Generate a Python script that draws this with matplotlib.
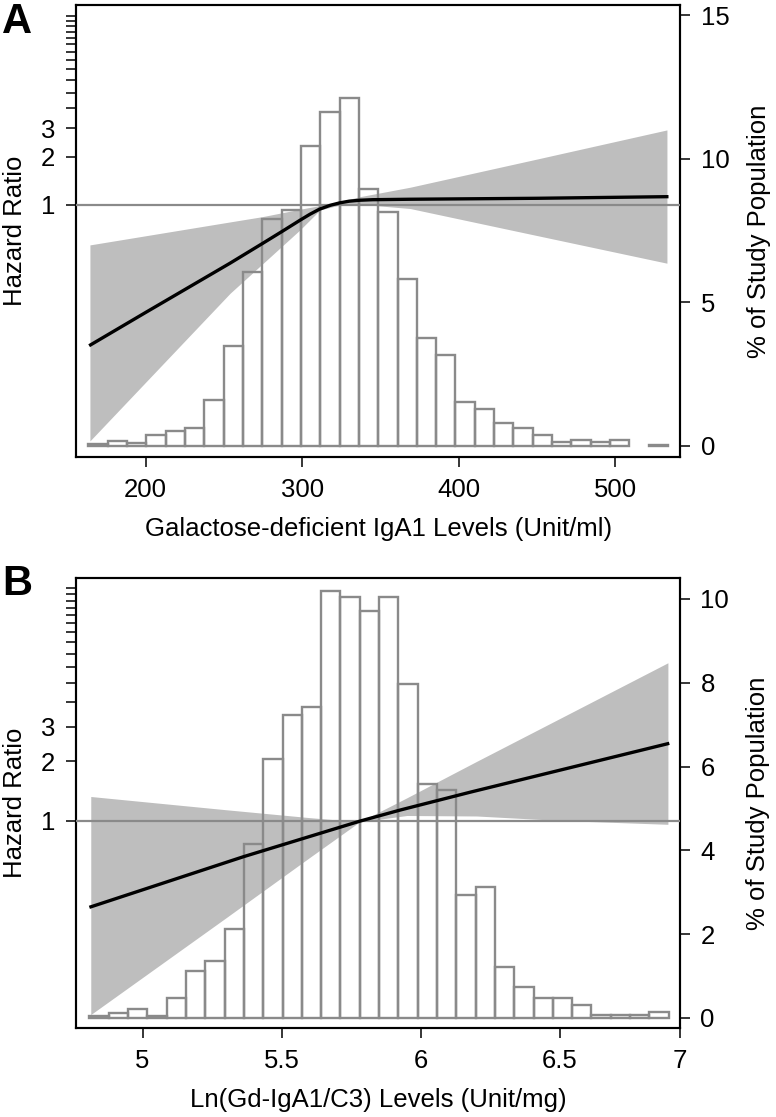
import numpy as np
import matplotlib
matplotlib.use('Agg')
import matplotlib.pyplot as plt
from matplotlib.ticker import FixedLocator, NullLocator

plt.rcParams['font.family'] = ['Liberation Sans', 'DejaVu Sans']
plt.rcParams['font.size'] = 18.5

# ---- panel A: Gd-IgA1 (Unit/ml)
gd_bin_start = 163.5
gd_bin_width = 12.34
gd_pct = [0.05, 0.17, 0.10, 0.37, 0.52, 0.60, 1.59, 3.48, 6.06, 7.89,
          8.21, 10.42, 11.61, 12.10, 8.94, 8.13, 5.81, 3.74, 3.16, 1.51,
          1.27, 0.78, 0.60, 0.37, 0.12, 0.19, 0.12, 0.19, 0.0, 0.03]
gd_x = [164, 200, 254, 275, 287, 299, 305, 311, 318, 324, 330, 337, 345, 369, 450, 534]
gd_hr = [0.133, 0.214, 0.434, 0.578, 0.682, 0.807, 0.875, 0.940, 0.995, 1.03,
         1.055, 1.070, 1.078, 1.085, 1.10, 1.126]
gd_ci_x = [164.5, 254, 274.5, 298.6, 311.4, 324, 337, 369, 450, 533]
gd_ci_lo = [0.034, 0.282, 0.428, 0.699, 0.93, 1.0, 1.01, 0.95, 0.645, 0.434]
gd_ci_hi = [0.564, 0.784, 0.845, 0.94, 0.99, 1.05, 1.126, 1.289, 1.93, 2.93]
gd_xticks = [200, 300, 400, 500]
gd_xticklabels = ['200', '300', '400', '500']
gd_pct_ticks = [0, 5, 10, 15]

# ---- panel B: Ln(Gd-IgA1/C3) (Unit/mg)
c3_bin_start = 4.809
c3_bin_width = 0.0694
c3_pct = [0.04, 0.12, 0.21, 0.04, 0.48, 1.13, 1.37, 2.12, 4.16, 6.17,
          7.24, 7.41, 10.20, 10.05, 9.71, 10.05, 7.97, 5.59, 5.43, 2.94,
          3.12, 1.21, 0.73, 0.48, 0.48, 0.30, 0.06, 0.06, 0.06, 0.14]
c3_x = [4.809, 5.363, 5.783, 5.927, 6.179, 6.893]
c3_hr = [0.366, 0.66, 1.0, 1.137, 1.40, 2.47]
c3_ci_x = [4.814, 5.3, 5.6, 5.78, 5.95, 6.2, 6.5, 6.888]
c3_ci_lo = [0.105, 0.324, 0.653, 0.99, 1.066, 1.06, 1.006, 0.962]
c3_ci_hi = [1.33, 1.14, 1.04, 0.99, 1.31, 2.0, 3.30, 6.31]
c3_xticks = [5, 5.5, 6, 6.5, 6.93]
c3_xticklabels = ['5', '5.5', '6', '6.5', '7']
c3_pct_ticks = [0, 2, 4, 6, 8, 10]

hr_ticks = list(range(1, 16))
hr_ticklabels = ['1', '2', '3'] + [''] * 12

W, H = 776, 1117


def px_rect(left, top, right, bottom):
    return [left / W, 1 - bottom / H, (right - left) / W, (bottom - top) / H]


def panel(rect, bin_start, bin_width, pct, x, hr, ci_x, ci_lo, ci_hi,
          xlim, hr_lim, pct_lim, xticks, xticklabels, pct_ticks, xlabel, label_y):
    ax = fig.add_axes(rect)
    ax2 = ax.twinx()
    ax.set_yscale('log')

    # confidence band under the bars
    ax.fill_between(ci_x, ci_lo, ci_hi, color='#bebebe', lw=0, zorder=1)

    pct = np.asarray(pct)
    lefts = bin_start + bin_width * np.arange(len(pct))
    keep = pct > 0
    ax2.bar(lefts[keep], pct[keep], width=bin_width, align='edge', fill=False,
            edgecolor='#8a8a8a', lw=1.7, zorder=2)

    # reference line at HR = 1 and the spline, drawn above the bars
    ax2.plot(xlim, [1, 1], transform=ax.transData, color='#8a8a8a', lw=1.6, zorder=3)
    ax2.plot(x, hr, transform=ax.transData, color='black', lw=2.4, zorder=4,
             solid_capstyle='butt', solid_joinstyle='round')

    ax.set_xlim(xlim)
    ax.set_ylim(hr_lim)
    ax2.set_ylim(pct_lim)

    ax.yaxis.set_major_locator(FixedLocator(hr_ticks))
    ax.yaxis.set_minor_locator(NullLocator())
    ax.set_yticklabels(hr_ticklabels)
    ax.set_xticks(xticks)
    ax.set_xticklabels(xticklabels)
    ax2.set_yticks(pct_ticks)

    for a in (ax, ax2):
        a.tick_params(length=7, width=1.1, pad=8, labelsize=18.5)
        for s in a.spines.values():
            s.set_linewidth(1.5)

    ax.set_ylabel('Hazard Ratio', va='center')
    ax.yaxis.set_label_coords(-0.1015, 0.5)
    ax2.set_ylabel('% of Study Population', va='center')
    ax2.yaxis.set_label_coords(1.13, 0.5)
    ax.set_xlabel(xlabel, va='center')
    ax.xaxis.set_label_coords(0.5, label_y)
    return ax, ax2


fig = plt.figure(figsize=(W / 100, H / 100), dpi=100)

panel(px_rect(76.3, 5, 680.4, 457), gd_bin_start, gd_bin_width, gd_pct,
      gd_x, gd_hr, gd_ci_x, gd_ci_lo, gd_ci_hi,
      (155.8, 541.6), (0.0270, 17.55), (-0.40, 15.35),
      gd_xticks, gd_xticklabels, gd_pct_ticks,
      'Galactose-deficient IgA1 Levels (Unit/ml)', -0.16)

panel(px_rect(76.3, 578, 679.6, 1028), c3_bin_start, c3_bin_width, c3_pct,
      c3_x, c3_hr, c3_ci_x, c3_ci_lo, c3_ci_hi,
      (4.762, 6.93), (0.0898, 16.93), (-0.24, 10.50),
      c3_xticks, c3_xticklabels, c3_pct_ticks,
      'Ln(Gd-IgA1/C3) Levels (Unit/mg)', -0.16)

fig.text(17 / W, 1 - 22 / H, 'A', fontsize=30, fontweight='bold', ha='center', va='center')
fig.text(17 / W, 1 - 584 / H, 'B', fontsize=30, fontweight='bold', ha='center', va='center')

fig.savefig('out.png', dpi=100)
